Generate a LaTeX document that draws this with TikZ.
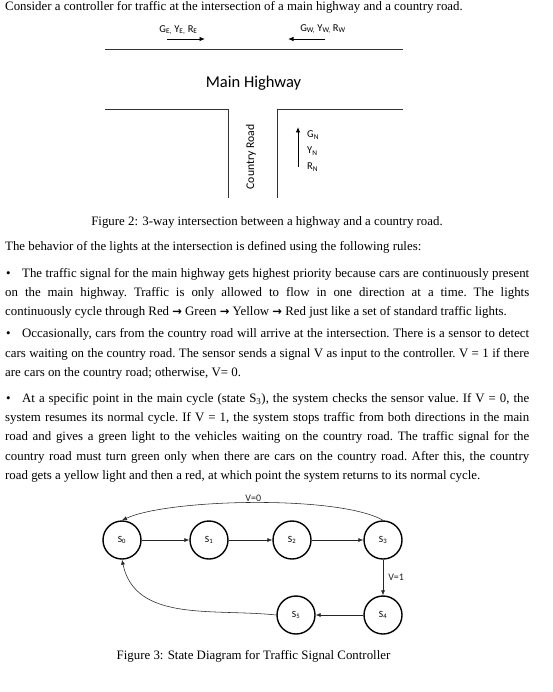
\documentclass[tikz,border=0pt]{standalone}
\usepackage{fontspec}
\setmainfont{Liberation Serif}
\newfontfamily\calibri{Carlito}
\newfontfamily\symbolfont{DejaVu Sans}
\usetikzlibrary{arrows.meta, positioning}
\newcommand{\thenarrow}{{\symbolfont\bfseries\fontsize{11.5}{12}\selectfont →}}
\newcommand{\paraset}{\hyphenpenalty=10000\relax\tolerance=9999\relax\frenchspacing}

\begin{document}
\begin{tikzpicture}[x=1pt, y=1pt,
    body/.style={anchor=north west, inner sep=0pt, text width=524pt, align=justify,
        font=\fontsize{12.86}{19.3}\selectfont},
    line/.style={anchor=base west, inner sep=0pt, font=\fontsize{12.86}{15}\selectfont},
    caption/.style={anchor=base, inner sep=0pt, font=\fontsize{12.86}{15}\selectfont},
    road/.style={line width=0.8pt, black!80},
    flow/.style={-{Latex[length=5.5pt, width=4.5pt]}, line width=0.9pt},
    tag/.style={inner sep=0pt, font=\calibri\fontsize{10.5}{12}\selectfont},
    state/.style={circle, draw, line width=1.4pt, minimum size=38pt, inner sep=0pt,
        font=\calibri\fontsize{9.5}{11}\selectfont},
    link/.style={-{Latex[length=5pt, width=4pt]}, line width=0.55pt, black!85},
    cond/.style={inner sep=1pt, font=\calibri\fontsize{10}{12}\selectfont}]
    \fill[white] (0,0) rectangle (553,-692);
    \useasboundingbox (0,0) rectangle (553,-692);

    % Intro
    \node[line] (intro) at (5,-11) {Consider a controller for traffic at the intersection of a main highway and a country road.};

    % Highway and country road edges
    \draw[road] (105,-49) -- (403,-49);
    \draw[road] (105,-109) -- (228,-109) -- (228,-198);
    \draw[road] (403,-109) -- (277,-109) -- (277,-198);
    \node[font=\calibri\fontsize{16.5}{18}\selectfont, anchor=base, inner sep=0pt] (hwy) at (253.5,-88) {Main Highway};
    \node[font=\calibri\fontsize{11.7}{14}\selectfont, rotate=90, inner sep=0pt] (country) at (251,-157) {Country Road};

    % Traffic lights and directions
    \draw[flow] (167,-39) -- (205,-39);
    \node[tag] (east) at (178.5,-30) {G\textsubscript{E,} Y\textsubscript{E,} R\textsubscript{E}};
    \draw[flow] (325,-39) -- (288,-39);
    \node[tag] (west) at (323,-29) {G\textsubscript{W,} Y\textsubscript{W,} R\textsubscript{W}};
    \draw[flow] (298,-167) -- (298,-127);
    \node[tag, anchor=west] (gn) at (307,-135) {G\textsubscript{N}};
    \node[tag, anchor=west] (yn) at (307,-151) {Y\textsubscript{N}};
    \node[tag, anchor=west] (rn) at (307,-167) {R\textsubscript{N}};

    \node[caption] (fig2) at (267,-225.5) {Figure 2: 3-way intersection between a highway and a country road.};

    % Rules
    \node[line] (rules) at (5,-250.5) {The behavior of the lights at the intersection is defined using the following rules:};
    \node[body] (rule1) at (5,-263.49) {\paraset\strut\hspace*{1pt}\textbullet\hspace{11.5pt}The traffic signal for the main highway gets highest priority because cars are continuously present\linebreak
        on the main highway. Traffic is only allowed to flow in one direction at a time. The lights\linebreak
        continuously cycle through Red \thenarrow{} Green \thenarrow{} Yellow \thenarrow{} Red just like a set of standard traffic lights.};
    \node[body] (rule2) at (5,-323.99) {\paraset\strut\hspace*{1pt}\textbullet\hspace{11.5pt}Occasionally, cars from the country road will arrive at the intersection. There is a sensor to detect\linebreak
        cars waiting on the country road. The sensor sends a signal V as input to the controller. V = 1 if there\linebreak
        are cars on the country road; otherwise, V= 0.};
    \node[body] (rule3) at (5,-388.49) {\paraset\strut\hspace*{1pt}\textbullet\hspace{11.5pt}At a specific point in the main cycle (state S\textsubscript{3}), the system checks the sensor value. If V = 0, the\linebreak
        system resumes its normal cycle. If V = 1, the system stops traffic from both directions in the main\linebreak
        road and gives a green light to the vehicles waiting on the country road. The traffic signal for the\linebreak
        country road must turn green only when there are cars on the country road. After this, the country\linebreak
        road gets a yellow light and then a red, at which point the system returns to its normal cycle.};

    % State diagram
    \node[state] (S0) at (122,-540) {S\textsubscript{0}};
    \node[state] (S1) at (209,-540) {S\textsubscript{1}};
    \node[state] (S2) at (292,-540) {S\textsubscript{2}};
    \node[state] (S3) at (383,-540) {S\textsubscript{3}};
    \node[state] (S4) at (383,-615) {S\textsubscript{4}};
    \node[state] (S5) at (296,-615) {S\textsubscript{5}};
    \draw[link] (S0) -- (S1);
    \draw[link] (S1) -- (S2);
    \draw[link] (S2) -- (S3);
    \draw[link] (S3) -- node[cond, right=4pt] (v1) {V=1} (S4);
    \draw[link] (S4) -- (S5);
    \draw[link] (S3.north) to[out=150, in=25, looseness=0.5] node[cond, above] (v0) {V=0} (S0.north);
    \draw[link] (S5.west) to[out=174, in=-78] (S0.south);

    \node[caption] (fig3) at (253.5,-659) {Figure 3: State Diagram for Traffic Signal Controller};
\end{tikzpicture}
\end{document}
